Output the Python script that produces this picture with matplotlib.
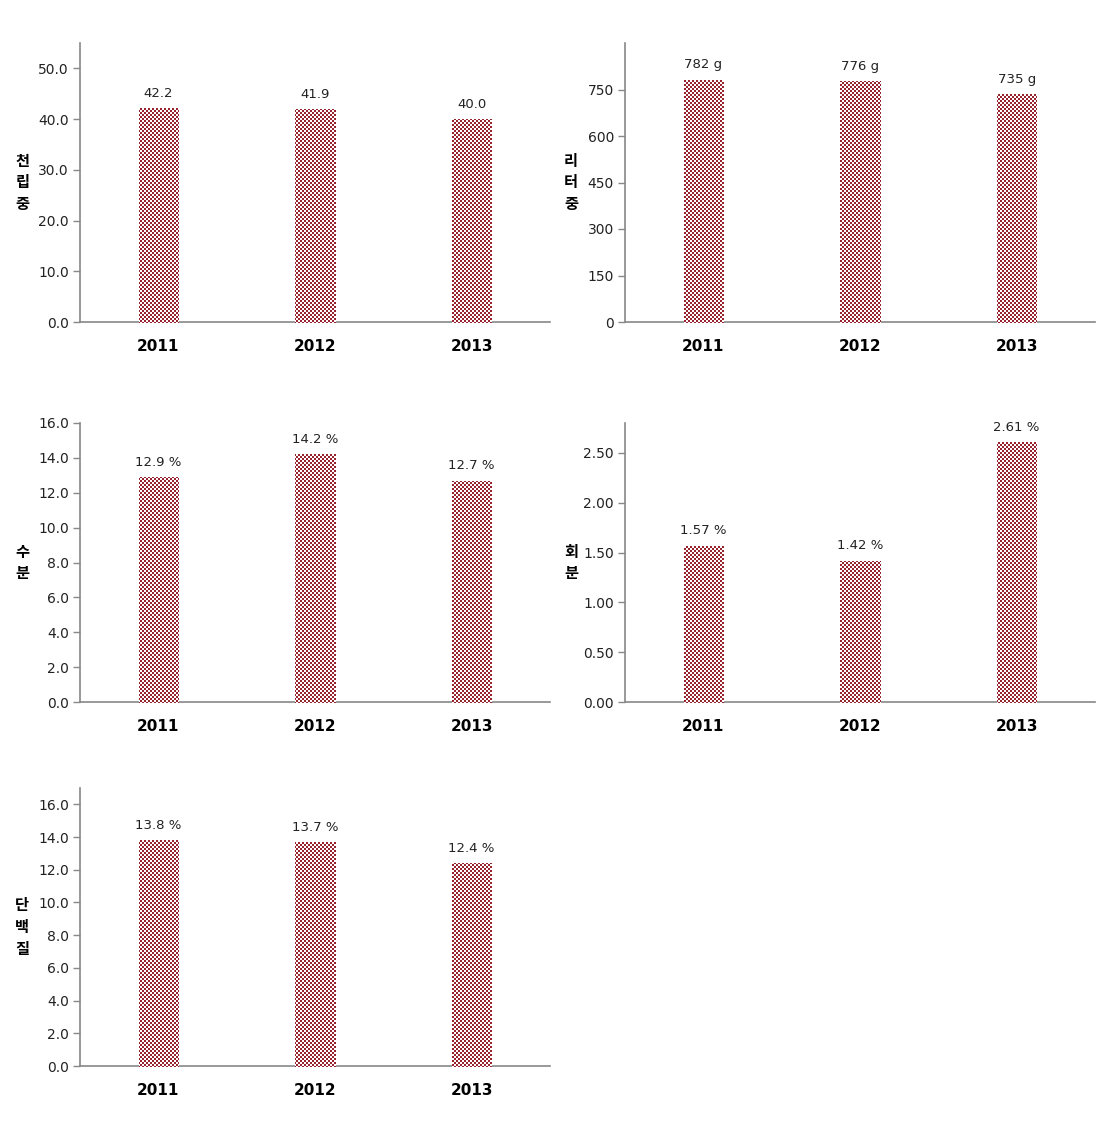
import numpy as np
import matplotlib
matplotlib.use("Agg")
import matplotlib.pyplot as plt
from matplotlib.ticker import FormatStrFormatter

years = ["2011", "2012", "2013"]

seed_weight = [42.2, 41.9, 40.0]       # 천립중
liter_weight = [782, 776, 735]         # 리터중
moisture = [12.9, 14.2, 12.7]          # 수분
ash = [1.57, 1.42, 2.61]               # 회분
protein = [13.8, 13.7, 12.4]           # 단백질

value_labels = [
    ["42.2", "41.9", "40.0"],
    ["782 g", "776 g", "735 g"],
    ["12.9 %", "14.2 %", "12.7 %"],
    ["1.57 %", "1.42 %", "2.61 %"],
    ["13.8 %", "13.7 %", "12.4 %"],
]
ylabels = ["천\n립\n중", "리\n터\n중", "수\n분", "회\n분", "단\n백\n질"]

W, H = 1114, 1125
DARK = np.array([150, 35, 45, 255], dtype=np.uint8)
LIGHT = np.array([255, 255, 255, 255], dtype=np.uint8)

# checker texture, 2px squares
yy, xx = np.mgrid[0:H, 0:W]
mask = ((xx // 2) + (yy // 2)) % 2 == 0
checker = np.where(mask[..., None], DARK, LIGHT).astype(np.uint8)

fig = plt.figure(figsize=(W / 100, H / 100), dpi=100)
fig.patch.set_facecolor("white")


def panel(rect, vals, labels, ylab, ylim, ticks, fmt, lab_x):
    ax = fig.add_axes(rect)
    x = np.arange(len(years))
    bars = ax.bar(x, vals, width=0.25, color="none", linewidth=0)
    for b, lab in zip(bars, labels):
        im = fig.figimage(checker, xo=0, yo=0, origin="upper", zorder=1)
        im.set_clip_path(b)
        ax.annotate(lab, (b.get_x() + b.get_width() / 2, b.get_height()),
                    xytext=(0, 6), textcoords="offset points",
                    ha="center", va="bottom", fontsize=9.5, color="#222222")
    ax.set_xlim(-0.5, 2.5)
    ax.set_ylim(*ylim)
    ax.set_yticks(ticks)
    ax.yaxis.set_major_formatter(FormatStrFormatter(fmt))
    ax.set_xticks(x)
    ax.set_xticklabels(years, fontsize=11, fontweight="bold")
    ax.tick_params(axis="x", length=0, pad=12)
    ax.tick_params(axis="y", length=5, width=1, color="#888888",
                   labelsize=10, pad=3, labelcolor="#222222")
    for s in ["top", "right"]:
        ax.spines[s].set_visible(False)
    for s in ["left", "bottom"]:
        ax.spines[s].set_color("#888888")
        ax.spines[s].set_linewidth(1.2)
    ax.set_ylabel(ylab, rotation=0, fontsize=11, fontweight="bold",
                  family=["Noto Sans CJK KR", "DejaVu Sans"],
                  linespacing=1.45, va="center", ha="center")
    ax.yaxis.set_label_coords(lab_x, 0.5)
    ax.patch.set_alpha(0)
    return ax


lw = 470 / W
h = 279 / H
left1, left2 = 80 / W, 625 / W
panel([left1, (H - 322) / H, lw, h], seed_weight, value_labels[0], ylabels[0],
      (0, 55), np.arange(0, 51, 10), "%.1f", -0.123)
panel([left2, (H - 322) / H, lw, h], liter_weight, value_labels[1], ylabels[1],
      (0, 900), np.arange(0, 751, 150), "%d", -0.115)
panel([left1, (H - 702) / H, lw, h], moisture, value_labels[2], ylabels[2],
      (0, 16), np.arange(0, 16.1, 2), "%.1f", -0.123)
panel([left2, (H - 702) / H, lw, h], ash, value_labels[3], ylabels[3],
      (0, 2.8), np.arange(0, 2.51, 0.5), "%.2f", -0.115)
panel([left1, (H - 1066) / H, lw, 278 / H], protein, value_labels[4], ylabels[4],
      (0, 17), np.arange(0, 16.1, 2), "%.1f", -0.123)

fig.savefig("out.png", dpi=100, facecolor="white")
